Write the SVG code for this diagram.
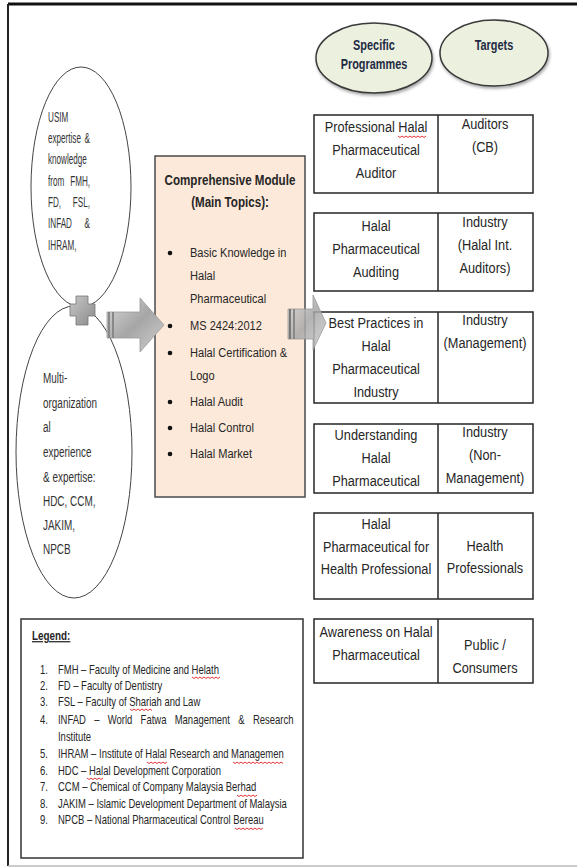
<svg xmlns="http://www.w3.org/2000/svg" width="577" height="867" viewBox="0 0 577 867">
<defs>
<style>
text{font-family:"Liberation Sans Narrow","Liberation Sans",Arial,sans-serif;fill:#262626}
.t{font-size:15px;text-anchor:middle}
.el{font-size:14px;fill:#333}
.li{font-size:13.5px}
.lg{font-size:12px}
.box{fill:#fff;stroke:#262626;stroke-width:1.5}
.hd{fill:#ebf1de;stroke:#3a3a3a;stroke-width:1.5}
.hdt{font-size:14px;font-weight:bold;fill:#1f2a44;text-anchor:middle}
.sq{fill:none;stroke:#e02020;stroke-width:0.9}
.dv{stroke:#262626;stroke-width:1.5}
</style>
<linearGradient id="ag" x1="0" y1="0" x2="1" y2="1">
<stop offset="0" stop-color="#d9d9d9"/><stop offset="0.5" stop-color="#a6a6a6"/><stop offset="1" stop-color="#d0d0d0"/>
</linearGradient>
<linearGradient id="pg" x1="0" y1="0" x2="1" y2="1">
<stop offset="0" stop-color="#c8c8c8"/><stop offset="1" stop-color="#8a8a8a"/>
</linearGradient>
<filter id="sh" x="-20%" y="-20%" width="140%" height="140%"><feDropShadow dx="1" dy="2" stdDeviation="1.5" flood-color="#000" flood-opacity="0.35"/></filter>
</defs>
<rect x="0" y="0" width="577" height="867" fill="#fff"/>
<!-- frame -->
<line x1="8" y1="4" x2="577" y2="4" stroke="#111" stroke-width="3"/>
<line x1="8" y1="4" x2="8" y2="866" stroke="#222" stroke-width="2"/>
<line x1="8" y1="866" x2="577" y2="866" stroke="#bbb" stroke-width="1.5"/>

<!-- header ellipses -->
<g id="hdr-programmes">
<ellipse class="hd" cx="374" cy="58" rx="58" ry="35" filter="url(#sh)"/>
<g transform="scale(0.78,1)">
<text class="hdt" x="479.5" y="50">Specific</text>
<text class="hdt" x="479.5" y="69">Programmes</text>
</g>
</g>
<g id="hdr-targets">
<ellipse class="hd" cx="494" cy="53" rx="54" ry="33" filter="url(#sh)"/>
<g transform="scale(0.78,1)">
<text class="hdt" x="633.3" y="50">Targets</text>
</g>
</g>

<!-- left ellipses -->
<g id="usim">
<ellipse cx="81" cy="187" rx="50" ry="120" fill="#fff" stroke="#444" stroke-width="1"/>
<g transform="scale(0.58,1)">
<text class="el" x="82.8" y="122">USIM</text>
<text class="el" x="82.8" y="143">expertise</text><text class="el" x="155.2" y="143" text-anchor="end">&amp;</text>
<text class="el" x="82.8" y="164">knowledge</text>
<text class="el" x="82.8" y="186">from</text><text class="el" x="155.2" y="186" text-anchor="end">FMH,</text>
<text class="el" x="82.8" y="207">FD,</text><text class="el" x="155.2" y="207" text-anchor="end">FSL,</text>
<text class="el" x="82.8" y="228">INFAD</text><text class="el" x="155.2" y="228" text-anchor="end">&amp;</text>
<text class="el" x="82.8" y="250">IHRAM,</text>
</g>
</g>
<g id="multi">
<ellipse cx="74" cy="452" rx="58" ry="146" fill="#fff" stroke="#444" stroke-width="1"/>
<g transform="scale(0.71,1)">
<text class="el" x="60.6" y="383">Multi-</text>
<text class="el" x="60.6" y="408">organization</text>
<text class="el" x="60.6" y="432">al</text>
<text class="el" x="60.6" y="457">experience</text>
<text class="el" x="60.6" y="482">&amp; expertise:</text>
<text class="el" x="60.6" y="506">HDC, CCM,</text>
<text class="el" x="60.6" y="530">JAKIM,</text>
<text class="el" x="60.6" y="554">NPCB</text>
</g>
</g>

<!-- module box -->
<g id="module">
<rect x="155" y="156" width="150" height="341" fill="#fde9d9" stroke="#4a4a4a" stroke-width="1.5"/>
<g transform="scale(0.8,1)">
<text x="287.5" y="185" style="font-size:14.5px;font-weight:bold;text-anchor:middle">Comprehensive Module</text>
<text x="287.5" y="207" style="font-size:14.5px;font-weight:bold;text-anchor:middle">(Main Topics):</text>
</g>
<g fill="#111">
<circle cx="170" cy="253" r="2.3"/><circle cx="170" cy="326" r="2.3"/><circle cx="170" cy="353" r="2.3"/>
<circle cx="170" cy="402" r="2.3"/><circle cx="170" cy="428" r="2.3"/><circle cx="170" cy="454" r="2.3"/>
</g>
<g transform="scale(0.82,1)">
<text class="li" x="231.7" y="257">Basic Knowledge in</text>
<text class="li" x="231.7" y="280">Halal</text>
<text class="li" x="231.7" y="303">Pharmaceutical</text>
<text class="li" x="231.7" y="330">MS 2424:2012</text>
<text class="li" x="231.7" y="357">Halal Certification &amp;</text>
<text class="li" x="231.7" y="380">Logo</text>
<text class="li" x="231.7" y="406">Halal Audit</text>
<text class="li" x="231.7" y="432">Halal Control</text>
<text class="li" x="231.7" y="458">Halal Market</text>
</g>
</g>

<!-- programme tables -->
<g id="row1">
<rect class="box" x="314" y="115" width="219" height="78"/><line class="dv" x1="438" y1="115" x2="438" y2="193"/>
<g transform="scale(0.85,1)">
<text class="t" x="442.4" y="132">Professional Halal</text>
<text class="t" x="442.4" y="155">Pharmaceutical</text>
<text class="t" x="442.4" y="178">Auditor</text>
<text class="t" x="570.6" y="129">Auditors</text>
<text class="t" x="570.6" y="152">(CB)</text>
</g>
<path class="sq" d="M398,136 l2,1.5 2,-1.5 2,1.5 2,-1.5 2,1.5 2,-1.5 2,1.5 2,-1.5 2,1.5 2,-1.5 2,1.5 2,-1.5 2,1.5 2,-1.5"/>
</g>
<g id="row2">
<rect class="box" x="314" y="213" width="219" height="78"/><line class="dv" x1="438" y1="213" x2="438" y2="291"/>
<g transform="scale(0.85,1)">
<text class="t" x="442.4" y="231">Halal</text>
<text class="t" x="442.4" y="254">Pharmaceutical</text>
<text class="t" x="442.4" y="277">Auditing</text>
<text class="t" x="570.6" y="227">Industry</text>
<text class="t" x="570.6" y="250">(Halal Int.</text>
<text class="t" x="570.6" y="273">Auditors)</text>
</g>
</g>
<g id="row3">
<rect class="box" x="314" y="312" width="219" height="91"/><line class="dv" x1="438" y1="312" x2="438" y2="403"/>
<g transform="scale(0.85,1)">
<text class="t" x="442.4" y="328">Best Practices in</text>
<text class="t" x="442.4" y="351">Halal</text>
<text class="t" x="442.4" y="374">Pharmaceutical</text>
<text class="t" x="442.4" y="397">Industry</text>
<text class="t" x="570.6" y="325">Industry</text>
<text class="t" x="570.6" y="348">(Management)</text>
</g>
</g>
<g id="row4">
<rect class="box" x="314" y="424" width="219" height="69"/><line class="dv" x1="438" y1="424" x2="438" y2="493"/>
<g transform="scale(0.85,1)">
<text class="t" x="442.4" y="440">Understanding</text>
<text class="t" x="442.4" y="463">Halal</text>
<text class="t" x="442.4" y="486">Pharmaceutical</text>
<text class="t" x="570.6" y="437">Industry</text>
<text class="t" x="570.6" y="460">(Non-</text>
<text class="t" x="570.6" y="483">Management)</text>
</g>
</g>
<g id="row5">
<rect class="box" x="314" y="513" width="219" height="86"/><line class="dv" x1="438" y1="513" x2="438" y2="599"/>
<g transform="scale(0.85,1)">
<text class="t" x="442.4" y="529">Halal</text>
<text class="t" x="442.4" y="552">Pharmaceutical for</text>
<text class="t" x="442.4" y="574">Health Professional</text>
<text class="t" x="570.6" y="551">Health</text>
<text class="t" x="570.6" y="573">Professionals</text>
</g>
</g>
<g id="row6">
<rect class="box" x="314" y="619" width="219" height="64"/><line class="dv" x1="438" y1="619" x2="438" y2="683"/>
<g transform="scale(0.85,1)">
<text class="t" x="442.4" y="637">Awareness on Halal</text>
<text class="t" x="442.4" y="660">Pharmaceutical</text>
<text class="t" x="570.6" y="650">Public /</text>
<text class="t" x="570.6" y="673">Consumers</text>
</g>
</g>

<!-- connectors -->
<g id="connectors">
<path d="M70,304 L76,304 L76,296 L88,296 L88,304 L95,304 L95,316 L88,316 L88,325 L76,325 L76,316 L70,316 Z" fill="url(#pg)" stroke="#777" stroke-width="0.8"/>
<path d="M107,312 L140,312 L140,298 L164,325 L140,352 L140,338 L107,338 Z" fill="url(#ag)" stroke="#999" stroke-width="0.8"/>
<rect x="108" y="312" width="2" height="26" fill="#888"/><rect x="112" y="312" width="2" height="26" fill="#888"/>
<path d="M288,309 L313,309 L313,295 L326,323 L313,350 L313,339 L288,339 Z" fill="url(#ag)" fill-opacity="0.85" stroke="#999" stroke-width="0.8"/>
<rect x="289" y="309" width="2" height="30" fill="#777"/><rect x="293" y="309" width="2" height="30" fill="#888"/>
</g>

<!-- legend -->
<g id="legend">
<rect x="21" y="619" width="282" height="239" fill="#fff" stroke="#333" stroke-width="1.5"/>
<g transform="scale(0.79,1)">
<text x="40.5" y="640" style="font-size:12.5px;font-weight:bold;text-decoration:underline">Legend:</text>
<text class="lg" x="50.6" y="674">1.</text><text class="lg" x="73.4" y="674">FMH – Faculty of Medicine and Helath</text>
<text class="lg" x="50.6" y="690">2.</text><text class="lg" x="73.4" y="690">FD – Faculty of Dentistry</text>
<text class="lg" x="50.6" y="706">3.</text><text class="lg" x="73.4" y="706">FSL – Faculty of Shariah and  Law</text>
<text class="lg" x="50.6" y="724">4.</text><text class="lg" x="73.4" y="724" word-spacing="7.2">INFAD – World Fatwa Management &amp; Research</text>
<text class="lg" x="73.4" y="741">Institute</text>
<text class="lg" x="50.6" y="758">5.</text><text class="lg" x="73.4" y="758">IHRAM – Institute of Halal Research and Managemen</text>
<text class="lg" x="50.6" y="775">6.</text><text class="lg" x="73.4" y="775">HDC – Halal Development  Corporation</text>
<text class="lg" x="50.6" y="791">7.</text><text class="lg" x="73.4" y="791">CCM – Chemical of Company Malaysia Berhad</text>
<text class="lg" x="50.6" y="808">8.</text><text class="lg" x="73.4" y="808">JAKIM – Islamic Development Department of Malaysia</text>
<text class="lg" x="50.6" y="824">9.</text><text class="lg" x="73.4" y="824">NPCB – National Pharmaceutical Control Bereau</text>
</g>
<g>
<path class="sq" d="M192,677 l2,1.5 2,-1.5 2,1.5 2,-1.5 2,1.5 2,-1.5 2,1.5 2,-1.5 2,1.5 2,-1.5 2,1.5 2,-1.5 2,1.5 2,-1.5"/>
<path class="sq" d="M130,709 l2,1.5 2,-1.5 2,1.5 2,-1.5 2,1.5 2,-1.5 2,1.5 2,-1.5 2,1.5 2,-1.5 2,1.5"/>
<path class="sq" d="M147,762 l2,1.5 2,-1.5 2,1.5 2,-1.5 2,1.5 2,-1.5 2,1.5 2,-1.5 2,1.5 2,-1.5"/>
<path class="sq" d="M233,762 l2,1.5 2,-1.5 2,1.5 2,-1.5 2,1.5 2,-1.5 2,1.5 2,-1.5 2,1.5 2,-1.5 2,1.5 2,-1.5 2,1.5 2,-1.5 2,1.5 2,-1.5 2,1.5 2,-1.5 2,1.5 2,-1.5 2,1.5 2,-1.5 2,1.5 2,-1.5 2,1.5"/>
<path class="sq" d="M87,778 l2,1.5 2,-1.5 2,1.5 2,-1.5 2,1.5 2,-1.5 2,1.5 2,-1.5"/>
<path class="sq" d="M237,795 l2,1.5 2,-1.5 2,1.5 2,-1.5 2,1.5 2,-1.5 2,1.5 2,-1.5 2,1.5 2,-1.5"/>
<path class="sq" d="M235,828 l2,1.5 2,-1.5 2,1.5 2,-1.5 2,1.5 2,-1.5 2,1.5 2,-1.5 2,1.5 2,-1.5 2,1.5 2,-1.5 2,1.5 2,-1.5"/>
</g>
</g>
</svg>
